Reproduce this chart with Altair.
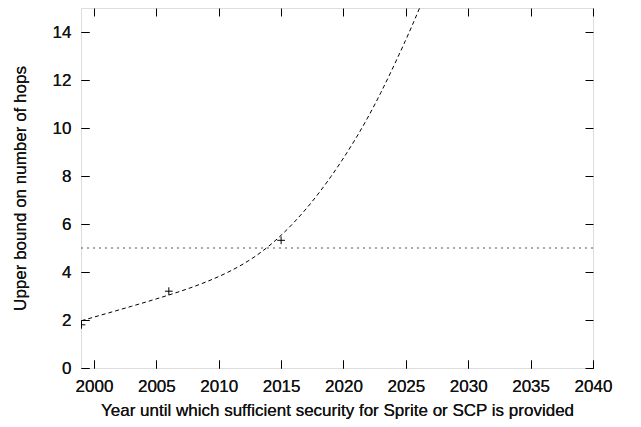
import altair as alt
import pandas as pd

# Fitted curve
curve_year = [1999, 2001, 2003, 2005, 2007, 2009, 2011, 2013, 2015, 2017, 2019, 2021, 2023, 2025, 2026.1]
curve_hops = [1.97, 2.27, 2.57, 2.88, 3.21, 3.59, 4.06, 4.68, 5.53, 6.63, 7.98, 9.58, 11.48, 13.68, 15.0]

# Measured points
point_year = [1999, 2006, 2015]
point_hops = [1.80, 3.20, 5.32]

# Threshold line
threshold = [5]

x_ticks = [2000, 2005, 2010, 2015, 2020, 2025, 2030, 2035, 2040]
y_ticks = [0, 2, 4, 6, 8, 10, 12, 14]

FONT = "Liberation Sans"
FS = 17
W, H = 512, 360

curve_df = pd.DataFrame({"year": curve_year, "hops": curve_hops})
pts_df = pd.DataFrame({"year": point_year, "hops": point_hops})
thr_df = pd.DataFrame({"hops": threshold})

xscale = alt.Scale(domain=[1998.96, 2040], nice=False, zero=False)
yscale = alt.Scale(domain=[0, 15], nice=False)

x_bottom = alt.Axis(
    orient="bottom", values=x_ticks, format="d", domain=False, grid=False,
    tickSize=8, offset=-8, tickColor="black", labelPadding=10,
    labelFont=FONT, labelFontSize=FS, labelFontWeight="normal", labelColor="#111111",
    labelFlush=False,
    title="Year until which sufficient security for Sprite or SCP is provided",
    titleFont=FONT, titleFontSize=FS, titleFontWeight="normal", titleColor="#111111",
    titleX=W / 2, titleY=55, titleBaseline="alphabetic", titleAlign="center",
)
y_left = alt.Axis(
    orient="left", values=y_ticks, domain=False, grid=False,
    tickSize=8, offset=-8, tickColor="black", labelPadding=10,
    labelFont=FONT, labelFontSize=FS, labelFontWeight="normal", labelColor="#111111",
    labelFlush=False,
    title="Upper bound on number of hops",
    titleFont=FONT, titleFontSize=FS, titleFontWeight="normal", titleColor="#111111",
    titleX=-64, titleY=H / 2, titleAngle=270, titleBaseline="alphabetic", titleAlign="center",
)
x_top = alt.Axis(
    orient="top", values=x_ticks, domain=False, grid=False, labels=False, title=None,
    tickSize=8, offset=-8, tickColor="black",
)
y_right = alt.Axis(
    orient="right", values=y_ticks, domain=False, grid=False, labels=False, title=None,
    tickSize=8, offset=-8, tickColor="black",
)

curve = alt.Chart(curve_df).mark_line(
    color="black", strokeWidth=1, strokeDash=[4, 3], interpolate="natural", clip=True
).encode(
    x=alt.X("year:Q", scale=xscale, axis=x_bottom),
    y=alt.Y("hops:Q", scale=yscale, axis=y_left),
)

points = alt.Chart(pts_df).mark_point(
    shape="M-1,0L1,0M0,-1L0,1", size=60, filled=False, color="black",
    strokeWidth=1, opacity=1, clip=True
).encode(
    x=alt.X("year:Q", scale=xscale, axis=x_bottom),
    y=alt.Y("hops:Q", scale=yscale, axis=y_left),
)

rule = alt.Chart(thr_df).mark_rule(
    color="#555555", strokeWidth=1, strokeDash=[2, 4]
).encode(
    y=alt.Y("hops:Q", scale=yscale, axis=y_right),
)

top_axis = alt.Chart(pts_df).mark_point(opacity=0).encode(
    x=alt.X("year:Q", scale=xscale, axis=x_top),
)

chart = alt.layer(curve, points, rule, top_axis).resolve_axis(
    x="independent", y="independent"
).properties(
    width=W, height=H,
    autosize=alt.AutoSizeParams(type="none"),
    padding={"left": 73, "top": 0, "right": 30, "bottom": 51},
).configure_view(
    stroke="black", strokeWidth=1
).configure(background="white")

chart.save("out.html", embed_options={"renderer": "svg", "actions": False})
